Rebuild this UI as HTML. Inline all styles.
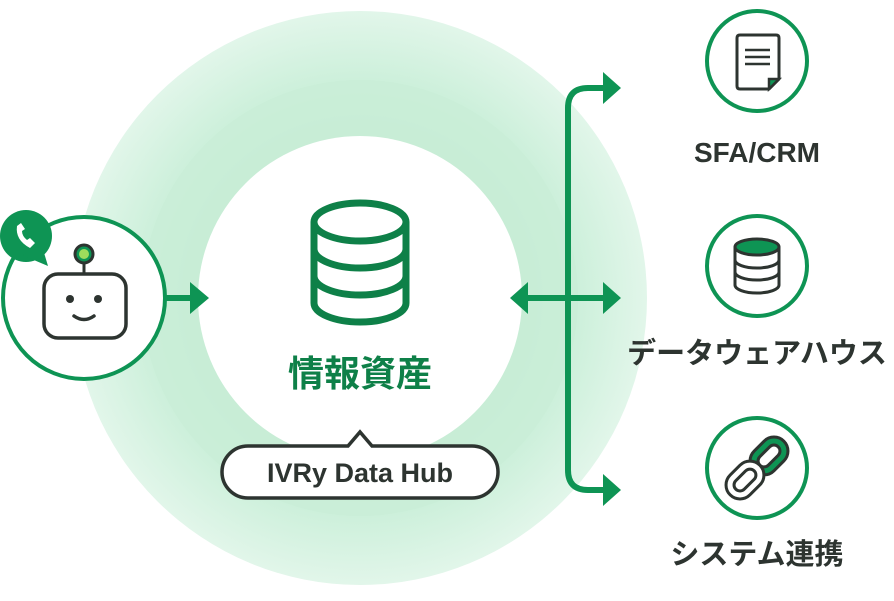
<!DOCTYPE html>
<html><head><meta charset="utf-8"><style>
body{margin:0;background:#fff;width:894px;height:596px;overflow:hidden}
text{font-family:"Liberation Sans","Noto Sans CJK JP",sans-serif;font-weight:bold}
</style></head><body>
<svg width="894" height="596" viewBox="0 0 894 596" xmlns="http://www.w3.org/2000/svg">
<defs>
<radialGradient id="g1" cx="360" cy="298" r="288" gradientUnits="userSpaceOnUse">
<stop offset="0.55" stop-color="#bfead0"/><stop offset="0.76" stop-color="#cdf0db"/><stop offset="1" stop-color="#e2f6ea"/>
</radialGradient>
</defs>
<circle cx="360" cy="298" r="287" fill="url(#g1)"/>
<circle cx="360" cy="298" r="218" fill="#c9eed7" opacity="0.8"/>
<circle cx="360" cy="298" r="162" fill="#fff"/>
<!-- database -->
<g fill="none" stroke="#0e8048" stroke-width="7">
<ellipse cx="360" cy="222" rx="46" ry="19"/>
<path d="M314 222 V303 A46 19 0 0 0 406 303 V222"/>
<path d="M314 249 A46 19 0 0 0 406 249"/>
<path d="M314 276 A46 19 0 0 0 406 276"/>
</g>
<text x="360" y="386" text-anchor="middle" font-size="36" fill="#0e8048">情報資産</text>
<!-- bubble -->
<path d="M248 446 H348 L360 432 L372 446 H472 A26 26 0 0 1 472 498 H248 A26 26 0 0 1 248 446 Z" fill="#fff" stroke="#2d3430" stroke-width="3.5"/>
<text x="360" y="482" text-anchor="middle" font-size="27" fill="#2d3430">IVRy Data Hub</text>
<!-- left node -->
<circle cx="84" cy="298" r="81" fill="#fff" stroke="#0e9454" stroke-width="4"/>
<path d="M165 298 H192" stroke="#0e9454" stroke-width="6"/>
<path d="M190 282 L209 298 L190 314 Z" fill="#0e9454"/>
<circle cx="26" cy="236" r="26" fill="#0e9454"/>
<path d="M22 255 L48 266 L42 246 Z" fill="#0e9454"/>
<path d="M17 226 Q15 240 30 248 L35 243 L30 238 L27 240 Q22 236 22 231 L25 229 L21 223 Z" fill="#fff"/>
<line x1="84" y1="262" x2="84" y2="274" stroke="#2d3430" stroke-width="3"/>
<circle cx="84" cy="254" r="9" fill="#0e9454" stroke="#2d3430" stroke-width="3"/>
<circle cx="84" cy="254" r="5" fill="#9fdc5c"/>
<rect x="44" y="274" width="82" height="64" rx="14" fill="#fff" stroke="#2d3430" stroke-width="3.5"/>
<circle cx="70" cy="299" r="4" fill="#2d3430"/><circle cx="98" cy="299" r="4" fill="#2d3430"/>
<path d="M74 316 Q84 323 94 316" fill="none" stroke="#2d3430" stroke-width="3.5" stroke-linecap="round"/>
<!-- connectors -->
<g stroke="#0e9454" stroke-width="6" fill="none">
<path d="M568 108 Q568 88 588 88 H605"/>
<path d="M568 108 V470 Q568 490 588 490 H605"/>
<path d="M525 298 H605"/>
</g>
<g fill="#0e9454">
<path d="M603 72 L621 88 L603 104 Z"/>
<path d="M603 474 L621 490 L603 506 Z"/>
<path d="M603 282 L621 298 L603 314 Z"/>
<path d="M528 282 L510 298 L528 314 Z"/>
</g>
<!-- right nodes -->
<g fill="#fff" stroke="#0e9454" stroke-width="4">
<circle cx="757" cy="61" r="50"/><circle cx="757" cy="266" r="50"/><circle cx="757" cy="468" r="50"/>
</g>
<g stroke="#2d3430" stroke-width="3" fill="none">
<path d="M740 35 H776 Q779 35 779 38 V79 L769 89 H740 Q737 89 737 86 V38 Q737 35 740 35 Z" fill="#fff"/>
<path d="M745 50 H770 M745 57 H770 M745 64 H770" stroke-width="2.5"/>
</g>
<path d="M779 79 L769 79 L769 89 Z" fill="#0e9454" stroke="#2d3430" stroke-width="2.5"/>
<g stroke="#2d3430" stroke-width="3" fill="none">
<ellipse cx="757" cy="247" rx="22" ry="8" fill="#0e9454"/>
<path d="M735 247 V285 A22 8 0 0 0 779 285 V247"/>
<path d="M735 260 A22 8 0 0 0 779 260 M735 272 A22 8 0 0 0 779 272"/>
</g>
<!-- chain -->
<g transform="rotate(-45 757 468)">
<rect x="757" y="458" width="34" height="20" rx="10" fill="none" stroke="#2d3430" stroke-width="11"/>
<rect x="757" y="458" width="34" height="20" rx="10" fill="none" stroke="#0e9454" stroke-width="5"/>
<rect x="723" y="458" width="34" height="20" rx="10" fill="none" stroke="#2d3430" stroke-width="11"/>
<rect x="723" y="458" width="34" height="20" rx="10" fill="none" stroke="#fff" stroke-width="5"/>
</g>
<g font-size="29" fill="#2d3430" text-anchor="middle">
<text x="757" y="162" font-size="28">SFA/CRM</text>
<text x="757" y="363">データウェアハウス</text>
<text x="757" y="564">システム連携</text>
</g>
</svg>
</body></html>
